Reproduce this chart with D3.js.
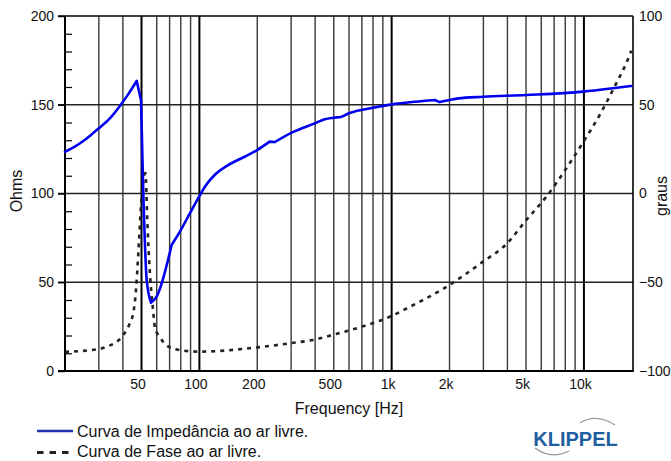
<!DOCTYPE html>
<html><head><meta charset="utf-8">
<script src="https://cdn.jsdelivr.net/npm/d3@7/dist/d3.min.js"></script>
<style>
html,body{margin:0;padding:0;background:#fff;}
svg{display:block;font-family:"Liberation Sans",Arial,sans-serif;}
</style></head>
<body>
<svg id="chart" width="671" height="461"></svg>
<script>
// ---- data ----
const impFreq = [20, 22.5, 25, 27.5, 30, 34.3, 38.6, 42.7, 47.2, 49.7, 51.1, 53.2, 56, 59.9, 71.7, 79.2, 89.3, 100, 106.8, 120, 141, 172, 200, 232, 247, 302, 398, 449, 500, 548, 600, 800, 1000, 1318, 1675, 1778, 2004, 2220, 2986, 5020, 9900, 14160, 17640];
const impOhms = [123.5, 126.4, 129.7, 133.3, 136.7, 142.4, 149.3, 156, 163.4, 152.7, 100, 51.3, 38.5, 41.9, 71, 78.5, 88.9, 98.5, 103.8, 110.4, 116, 120.7, 124.5, 129.2, 129, 134.3, 139.5, 141.8, 142.7, 143.3, 145.2, 148.3, 150.2, 151.7, 152.7, 151.5, 152.7, 153.6, 154.5, 155.5, 157.4, 159.3, 160.6];
const impCorners = [47.2, 49.7, 56, 71.7, 232, 247, 1675, 1778];
const phaseFreq = [20, 30, 33, 40.2, 43.5, 45.4, 46.3, 48.5, 49.7, 52.4, 53.7, 55.0, 57.4, 58.8, 62.1, 69, 79.2, 100, 200, 295, 390, 500, 700, 1000, 1170, 2000, 2986, 3951, 5020, 6375, 8101, 9950, 12070, 14440, 17290, 17640];
const phaseDeg = [-89.2, -87.6, -86.3, -79.7, -73.1, -66.8, -60, -27.3, -6.5, 11.5, -17.7, -40.8, -65.6, -75.8, -80.7, -86.3, -88.2, -89.1, -86.7, -84.4, -82.5, -79.5, -75, -69, -65.3, -51.5, -38.4, -28.5, -14.9, -1.8, 14.2, 29.2, 44.2, 60.2, 78, 80.5];
const xTickValues = [50, 100, 200, 500, 1000, 2000, 5000, 10000];
const xTickLabels = ["50", "100", "200", "500", "1k", "2k", "5k", "10k"];
const yLeftTicks = [0, 50, 100, 150, 200];
const yRightTicks = [-100, -50, 0, 50, 100];
const legendLabels = ["Curva de Impedância ao ar livre.", "Curva de Fase ao ar livre."];

const svg = d3.select("#chart");
const L = 65, R = 633, T = 16, B = 371;
const x = d3.scaleLog().domain([20, 18000]).range([L, R]);
const yL = d3.scaleLinear().domain([0, 200]).range([B, T]);
const yR = d3.scaleLinear().domain([-100, 100]).range([B, T]);

// vertical grid
const gridVals = [];
[10, 100, 1000, 10000].forEach(d => { for (let m = 1; m <= 9; m++) { const f = m * d; if (f > 20 && f < 18000) gridVals.push(f); } });
const decades = [50, 100, 1000, 10000];
svg.append("g").selectAll("line").data(gridVals).join("line")
  .attr("x1", d => x(d)).attr("x2", d => x(d)).attr("y1", T).attr("y2", B)
  .attr("stroke", d => decades.includes(d) ? "#000" : "#3a3a3a")
  .attr("stroke-width", d => decades.includes(d) ? 2 : 1.4);

// horizontal grid
svg.append("g").selectAll("line").data([50, 100, 150]).join("line")
  .attr("x1", 58).attr("x2", R).attr("y1", d => yL(d)).attr("y2", d => yL(d))
  .attr("stroke", "#222").attr("stroke-width", 1.4);

// left axis major ticks (outward) and minor ticks (inward)
const leftAxis = d3.axisLeft(yL).tickValues(yLeftTicks).tickSize(7).tickPadding(4).tickFormat(d3.format("d"));
const gl = svg.append("g").attr("transform", `translate(${L},0)`).call(leftAxis);
gl.select(".domain").remove();
gl.selectAll(".tick line").attr("stroke", "#000").attr("stroke-width", 1.4);
gl.selectAll(".tick text").attr("font-size", 14).attr("fill", "#111").attr("font-family", "Liberation Sans, Arial, sans-serif");
const minorVals = d3.range(10, 200, 10).filter(v => v % 50 !== 0);
const minorAxis = d3.axisLeft(yL).tickValues(minorVals).tickSize(-7).tickFormat("");
const gm = svg.append("g").attr("transform", `translate(${L},0)`).call(minorAxis);
gm.select(".domain").remove();
gm.selectAll(".tick line").attr("stroke", "#000").attr("stroke-width", 1.2);

// right axis labels
const rightAxis = d3.axisRight(yR).tickValues(yRightTicks).tickSize(0).tickPadding(6).tickFormat(d3.format("d"));
const gr = svg.append("g").attr("transform", `translate(${R},0)`).call(rightAxis);
gr.select(".domain").remove();
gr.selectAll(".tick text").attr("font-size", 14).attr("fill", "#111").attr("font-family", "Liberation Sans, Arial, sans-serif");

// bottom axis labels
const bottomAxis = d3.axisBottom(x).tickValues(xTickValues).tickSize(0).tickPadding(8)
  .tickFormat((d, i) => xTickLabels[i]);
const gb = svg.append("g").attr("transform", `translate(0,${B})`).call(bottomAxis);
gb.select(".domain").remove();
gb.selectAll(".tick text").attr("font-size", 14).attr("fill", "#111").attr("dx", -4).attr("font-family", "Liberation Sans, Arial, sans-serif");

// frame
svg.append("line").attr("x1", L).attr("x2", L).attr("y1", T).attr("y2", B).attr("stroke", "#000").attr("stroke-width", 2);
svg.append("line").attr("x1", R).attr("x2", R).attr("y1", T).attr("y2", B).attr("stroke", "#000").attr("stroke-width", 1.6);
svg.append("line").attr("x1", 58).attr("x2", R).attr("y1", T).attr("y2", T).attr("stroke", "#000").attr("stroke-width", 1.6);
svg.append("line").attr("x1", 58).attr("x2", R + 0.8).attr("y1", B).attr("y2", B).attr("stroke", "#000").attr("stroke-width", 2);

// curves
const impData = impFreq.map((f, i) => [f, impOhms[i]]);
const phData = phaseFreq.map((f, i) => [f, phaseDeg[i]]);
svg.append("path").datum(phData)
  .attr("d", d3.line().x(d => x(d[0])).y(d => yR(d[1])).curve(d3.curveMonotoneX))
  .attr("fill", "none").attr("stroke", "#222").attr("stroke-width", 2.6).attr("stroke-dasharray", "4,5");

// impedance: smooth segments joined at the sharp corners of the measured curve
const impLine = d3.line().x(d => x(d[0])).y(d => yL(d[1])).curve(d3.curveMonotoneX);
const segs = [];
let cur = [];
impData.forEach(p => {
  cur.push(p);
  if (impCorners.includes(p[0])) { segs.push(cur); cur = [p]; }
});
if (cur.length > 1) segs.push(cur);
svg.append("path").attr("d", segs.map(s => impLine(s)).join(""))
  .attr("fill", "none").attr("stroke", "#0000ee").attr("stroke-width", 2.6)
  .attr("stroke-linejoin", "round").attr("stroke-linecap", "round");

// axis titles
svg.append("text").attr("transform", "translate(22,191) rotate(-90)").attr("text-anchor", "middle")
  .attr("font-size", 16).attr("fill", "#111").text("Ohms");
svg.append("text").attr("transform", "translate(667,196) rotate(-90)").attr("text-anchor", "middle")
  .attr("font-size", 16).attr("fill", "#111").text("graus");
svg.append("text").attr("x", 349).attr("y", 414).attr("text-anchor", "middle")
  .attr("font-size", 16).attr("fill", "#111").text("Frequency [Hz]");

// legend
svg.append("line").attr("x1", 37).attr("x2", 73).attr("y1", 431).attr("y2", 431).attr("stroke", "#2233aa").attr("stroke-width", 2.6);
svg.append("text").attr("x", 77).attr("y", 437).attr("font-size", 16).attr("fill", "#111").text(legendLabels[0]);
svg.append("line").attr("x1", 37).attr("x2", 70).attr("y1", 452.5).attr("y2", 452.5).attr("stroke", "#222").attr("stroke-width", 2.8).attr("stroke-dasharray", "6.5,6");
svg.append("text").attr("x", 77).attr("y", 457).attr("font-size", 16).attr("fill", "#111").text(legendLabels[1]);

// KLIPPEL logo
svg.append("path").attr("d", "M580,423 Q596,413 615,425").attr("fill", "none").attr("stroke", "#999").attr("stroke-width", 1.3);
svg.append("path").attr("d", "M535,448 Q551,460 569,451").attr("fill", "none").attr("stroke", "#999").attr("stroke-width", 1.3);
svg.append("text").attr("x", 575.5).attr("y", 446).attr("text-anchor", "middle").attr("font-size", 20)
  .attr("font-weight", "bold").attr("fill", "#1f5f9f").text("KLIPPEL");
</script>
</body></html>
